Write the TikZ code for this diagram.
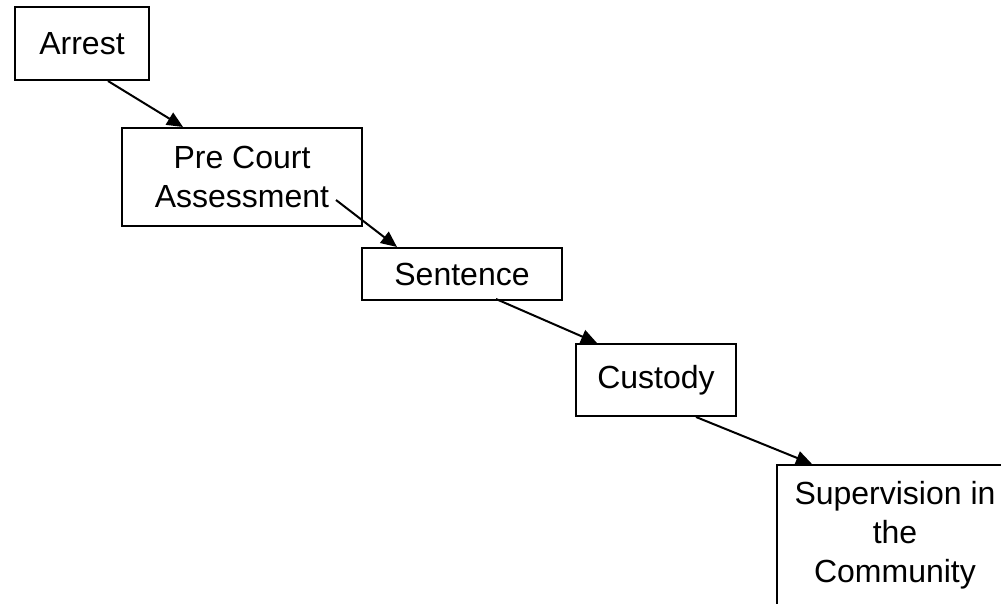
\documentclass[tikz,border=0pt]{standalone}
\usepackage{fontspec}
\setmainfont{Liberation Sans}
\usetikzlibrary{arrows.meta}

\begin{document}
\begin{tikzpicture}[x=1pt,y=1pt,
	stage/.style={rectangle,draw=black,line width=2pt,font=\fontsize{32}{39}\selectfont,align=center,inner sep=0pt},
	link/.style={draw=black,line width=2pt,-{Triangle[length=16pt,width=14pt]}}]
\useasboundingbox (0,0) rectangle (1001,-604);
\clip (0,0) rectangle (1001,-604);
\node[stage,minimum width=134pt,minimum height=73pt] (arrest) at (82,-43.5){Arrest};
\node[stage,minimum width=240pt,minimum height=98pt] (pc) at (242,-177){Pre Court\\Assessment};
\node[stage,minimum width=200pt,minimum height=52pt] (sent) at (462,-274){Sentence};
\node[stage,minimum width=160pt,minimum height=72pt] (cust) at (656,-380){Custody};
\node[stage,anchor=north west,inner xsep=8pt,inner ysep=16pt] (super) at (776,-464)
	{\parbox[t][150pt][t]{220pt}{\centering Supervision in\\the\\Community}};
\draw[link] ([xshift=26pt]arrest.south)--([xshift=62pt]pc.north west);
\draw[link] ([xshift=-27pt,yshift=27pt]pc.south east)--([xshift=36pt]sent.north west);
\draw[link] ([xshift=34pt,yshift=2pt]sent.south)--([xshift=22pt]cust.north west);
\draw[link] ([xshift=40pt]cust.south)--([xshift=36pt]super.north west);
\end{tikzpicture}
\end{document}
